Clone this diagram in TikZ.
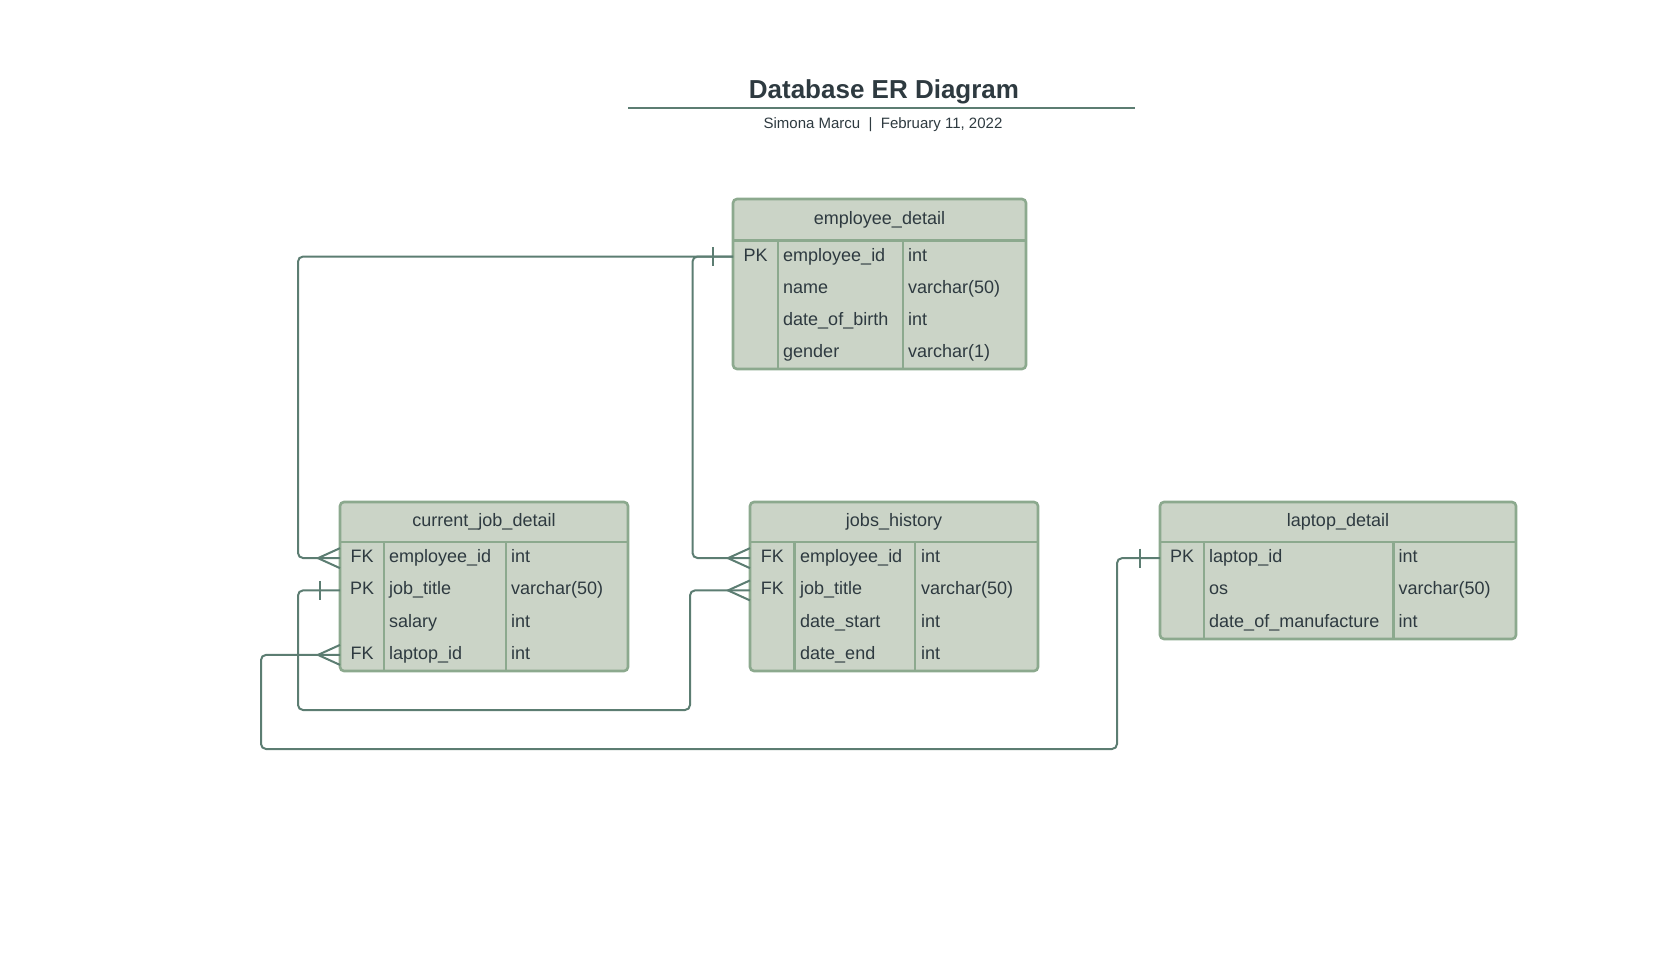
\documentclass[tikz,border=0pt]{standalone}
\usepackage{fontspec}
\setmainfont{Liberation Sans}
\usetikzlibrary{positioning}

\definecolor{tabfill}{HTML}{CBD4C7}
\definecolor{tabline}{HTML}{8CA98E}
\definecolor{linkcol}{HTML}{5C7D72}
\definecolor{textcol}{HTML}{2E3A40}

\tikzset{
	tablebox/.style={draw=tabline, fill=tabfill, line width=2.6pt, rounded corners=4pt},
	rule/.style={draw=tabline, line width=2.6pt},
	cell/.style={inner sep=0pt, text=textcol, font=\fontsize{18}{20}\selectfont, text height=13pt, text depth=4pt},
	link/.style={draw=linkcol, line width=2pt, rounded corners=5pt},
	onemark/.pic={\draw[linkcol, line width=2pt] (-20,-9.5) -- (-20,9.5);},
	manymark/.pic={\draw[linkcol, line width=2pt] (0,10) -- (-22,0) -- (0,-10);},
}

\begin{document}
\begin{tikzpicture}[x=1pt, y=-1pt]
		\useasboundingbox (0,0) rectangle (1664,964);

		% title
		\node[font=\bfseries\fontsize{26}{30}\selectfont, text=textcol] (title) at (884,91.5) {Database ER Diagram};
		\draw[linkcol, line width=2pt] (628,108) -- (1135,108);
		\node[font=\fontsize{15}{18}\selectfont, text=textcol] (subtitle) at (883,124.5) {Simona Marcu~~|~~February 11, 2022};

		% employee_detail
		\draw[tablebox] (733,199) rectangle (1026,369);
		\draw[rule] (733,240.5) -- (1026,240.5);
		\draw[rule] (778,240.5) -- (778,369);
		\draw[rule] (903,240.5) -- (903,369);
		\node[cell] (emp-head) at (879.5,219.8) {employee\_detail};
		\foreach \k/\f/\t [count=\i] in {PK/employee\_id/int, /name/varchar(50), /date\_of\_birth/int, /gender/varchar(1)}{
			\node[cell, minimum width=45pt, anchor=west] (emp-\i) at (733,224.4+32.15*\i) {\k};
			\node[cell, anchor=west] at (783,224.4+32.15*\i) {\f};
			\node[cell, anchor=west] at (908,224.4+32.15*\i) {\t};
		}

		% current_job_detail
		\draw[tablebox] (340,502) rectangle (628,671);
		\draw[rule] (340,542) -- (628,542);
		\draw[rule] (384,542) -- (384,671);
		\draw[rule] (506,542) -- (506,671);
		\node[cell] (cur-head) at (484,522) {current\_job\_detail};
		\foreach \k/\f/\t [count=\i] in {FK/employee\_id/int, PK/job\_title/varchar(50), /salary/int, FK/laptop\_id/int}{
			\node[cell, minimum width=44pt, anchor=west] (cur-\i) at (340,525.9+32.25*\i) {\k};
			\node[cell, anchor=west] at (389,525.9+32.25*\i) {\f};
			\node[cell, anchor=west] at (511,525.9+32.25*\i) {\t};
		}

		% jobs_history
		\draw[tablebox] (750,502) rectangle (1038,671);
		\draw[rule] (750,542) -- (1038,542);
		\draw[rule] (794.5,542) -- (794.5,671);
		\draw[rule] (915,542) -- (915,671);
		\node[cell] (jobs-head) at (894,522) {jobs\_history};
		\foreach \k/\f/\t [count=\i] in {FK/employee\_id/int, FK/job\_title/varchar(50), /date\_start/int, /date\_end/int}{
			\node[cell, minimum width=44.5pt, anchor=west] (jobs-\i) at (750,525.9+32.25*\i) {\k};
			\node[cell, anchor=west] at (800,525.9+32.25*\i) {\f};
			\node[cell, anchor=west] at (921,525.9+32.25*\i) {\t};
		}

		% laptop_detail
		\draw[tablebox] (1160,502) rectangle (1516,639);
		\draw[rule] (1160,542) -- (1516,542);
		\draw[rule] (1204,542) -- (1204,639);
		\draw[rule] (1393.5,542) -- (1393.5,639);
		\node[cell] (lap-head) at (1338,522) {laptop\_detail};
		\foreach \k/\f/\t [count=\i] in {PK/laptop\_id/int, /os/varchar(50), /date\_of\_manufacture/int}{
			\node[cell, minimum width=44pt, anchor=west] (lap-\i) at (1160,525.9+32.25*\i) {\k};
			\node[cell, anchor=west] at (1209,525.9+32.25*\i) {\f};
			\node[cell, anchor=west] at (1398.5,525.9+32.25*\i) {\t};
		}

		% relations
		\draw[link] (emp-1.west) -| (298,558) -- (cur-1.west);
		\draw[link] (emp-1.west) -| (692.5,558) -- (jobs-1.west);
		\draw[link] (cur-2.west) -| (298,710) -- (690,710) |- (jobs-2.west);
		\draw[link] (lap-1.west) -| (1117,749) -- (261,749) |- (cur-4.west);

		\pic at (emp-1.west) {onemark};
		\pic at (cur-2.west) {onemark};
		\pic at (lap-1.west) {onemark};
		\pic at (cur-1.west) {manymark};
		\pic at (jobs-1.west) {manymark};
		\pic at (jobs-2.west) {manymark};
		\pic at (cur-4.west) {manymark};
	\end{tikzpicture}
\end{document}
